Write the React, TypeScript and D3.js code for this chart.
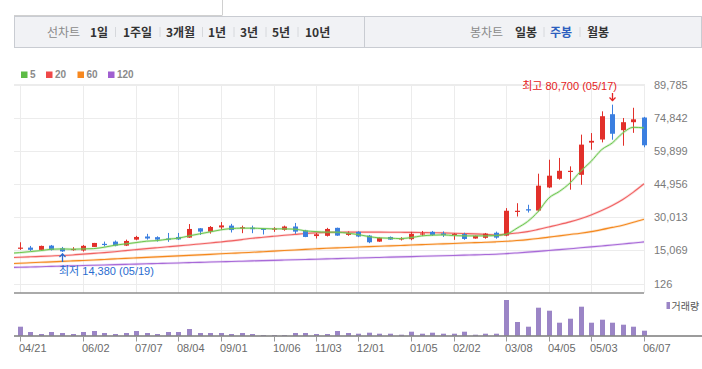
import React from 'react';
import * as d3 from 'd3';

const openP = [15850,16300,15260,17200,16000,15250,15000,16600,18000,19000,17200,19900,21300,21000,20400,21100,20800,25000,23500,25400,26200,24900,25300,24800,24500,24300,25800,24000,21500,21600,25200,22000,23400,21700,19000,21100,20100,20100,22300,23400,22700,22200,22400,20400,20700,23000,21700,32400,33600,33000,43400,47300,50400,49100,63600,65000,76400,69200,72800,74900];
const highP = [18700,17060,17200,17500,16600,16500,17500,18420,19000,19500,19900,21600,22500,21400,22900,22900,26900,25100,26000,27800,27000,26200,26200,25000,25500,26200,27400,24300,22900,25200,25300,23600,23700,22000,20900,21300,21000,23400,23800,23800,23600,22800,23000,21700,22900,23500,34100,36300,35600,49600,55900,56700,52900,67200,67900,77700,80700,74700,79300,75200];
const lowP = [15250,14800,15200,15000,14380,14900,14500,16600,16800,16900,17000,19600,19900,19000,18900,19700,20700,22000,22600,24400,23100,22800,22800,22200,23400,23900,22500,21000,20400,21300,21600,21600,21000,18300,18900,19800,19500,19600,21500,21600,21100,19800,19800,20300,20300,20300,21400,30300,32100,32500,43100,46900,42400,44600,60400,63700,64900,62200,68000,61500];
const closeP = [16300,15300,17060,15300,14600,15700,17100,18400,17500,17200,19300,21100,20400,19900,20200,20000,24700,23500,25600,26300,24200,25500,24600,24400,24900,25800,23500,21100,22300,24700,21700,22800,21300,18700,20700,19900,20500,22500,22700,22000,21900,22500,20200,21600,22600,20800,32900,32900,33000,44200,48700,50900,50900,62700,64400,75500,67600,72800,74100,62400];

// moving averages; the first value belongs to the week before the first candle (cut at the plot edge)
const ma5 = [13700,14040,14490,14940,15570,15710,15570,15710,15850,16480,17380,17970,18560,19190,19460,20090,20540,21580,22490,23390,24290,24880,25060,25060,24880,24740,24740,24610,23840,23520,23250,23250,22800,22170,21270,20680,20540,20360,20810,21580,21900,22030,21720,21580,21580,21580,21720,22350,25060,28050,32560,38610,41600,45380,50630,55140,60430,63450,67970,70500,70230];
const ma20 = [11800,11960,12150,12350,12550,12750,13000,13350,13700,14050,14450,14940,15400,15850,16250,16650,17060,17500,17950,18400,18850,19320,19900,20540,20950,21400,21850,22250,22650,22950,23150,23250,23270,23280,23290,23280,23250,23200,23150,23080,23000,22930,22800,22650,22490,22250,22030,22400,22900,23500,24500,25600,26700,27900,29300,31000,33000,35300,38000,41300,45070];
const ma60 = [9050,9250,9460,9670,9880,10090,10300,10520,10740,10960,11200,11430,11660,11890,12120,12350,12580,12810,13040,13270,13500,13730,13960,14200,14460,14720,14980,15240,15500,15750,16000,16180,16360,16540,16720,16900,17080,17260,17440,17620,17800,17980,18160,18340,18520,18700,18900,19150,19500,19900,20400,21000,21600,22200,22800,23500,24400,25400,26400,27700,29100];
const ma120 = [7320,7440,7570,7700,7830,7960,8090,8220,8350,8480,8610,8740,8870,9000,9130,9260,9390,9520,9650,9780,9910,10040,10170,10300,10430,10560,10690,10820,10950,11080,11210,11340,11470,11600,11730,11860,11990,12120,12250,12380,12510,12640,12770,12900,13030,13160,13300,13580,13900,14250,14620,15000,15400,15800,16200,16620,17050,17480,17930,18400,18870];

const volume = [90,37,17,37,27,17,37,47,27,17,27,47,27,17,37,37,67,27,27,27,17,27,17,7,7,7,27,27,17,17,47,27,20,30,20,20,10,40,20,30,20,20,40,10,20,20,357,137,90,280,250,130,170,290,130,160,130,110,90,50];

const tickIndex = [0,6,11,15,19,24,28,32,37,41,46,50,54,59];
const tickLabels = ['04/21','06/02','07/07','08/04','09/01','10/06','11/03','12/01','01/05','02/02','03/08','04/05','05/03','06/07'];
const yTicks = [126,15069,30013,44956,59899,74842,89785];
const maxDate = '05/17';
const minDate = '05/19';

const periodTabs = ['1일','1주일','3개월','1년','3년','5년','10년'];
const candleTabs = ['일봉','주봉','월봉'];
const legendItems = [
  { label: '5', color: '#5dbb46' },
  { label: '20', color: '#ef4848' },
  { label: '60', color: '#f7881f' },
  { label: '120', color: '#a05fd0' },
];

const UP = '#e2302a';
const DOWN = '#3b7fe0';
const NUMFONT = '"Liberation Sans", Arial, "Noto Sans CJK KR", sans-serif';
const KRFONT = '"Noto Sans CJK KR", "Liberation Sans", sans-serif';

export default function App() {
  const n = closeP.length;
  const x = d3.scaleLinear().domain([0, n - 1]).range([19.7, 644]);
  const y = d3.scaleLinear().domain([126, 89785]).range([283.5, 84.5]);
  const yv = d3.scaleLinear().domain([0, d3.max(volume) as number]).range([335.7, 300]);
  const fmt = d3.format(',');
  const lineGen = (arr: number[]) =>
    d3.line<number>().x((_, i) => x(i - 1)).y((d) => y(d)).curve(d3.curveMonotoneX)(arr) || '';

  const maxI = d3.maxIndex(highP);
  const minI = d3.minIndex(lowP);
  const xMax = Math.round(x(maxI));
  const xMin = Math.round(x(minI));

  const tabX = [90, 123, 166, 208, 240, 272, 305];
  const sepX = [115.5, 160, 202.5, 234, 266, 298];
  const ctabX = [515, 550, 587];
  const csepX = [544, 580];

  const mas = [
    { d: ma120, c: '#a86ad8', w: 1.1 },
    { d: ma60, c: '#f4891f', w: 1.1 },
    { d: ma20, c: '#f06262', w: 1.1 },
  ];

  return (
    <svg width={702} height={369} style={{ position: 'absolute', left: 0, top: 0, background: '#fff' }}>
      <defs>
        <clipPath id="plotClip">
          <rect x={14} y={84} width={631} height={209} />
        </clipPath>
      </defs>
      {/* header */}
      <line x1={14} x2={222} y1={15.5} y2={15.5} stroke="#d0d0d0" />
      <line x1={222.5} x2={222.5} y1={0} y2={15.5} stroke="#d0d0d0" />
      <rect x={14.5} y={16.5} width={687} height={31} fill="#f1f2f5" stroke="#c9ccd2" />
      <line x1={364.5} x2={364.5} y1={17} y2={47} stroke="#c9ccd2" />
      <text x={47} y={36.5} fontFamily={KRFONT} fontSize={12} fill="#8a8a8a">선차트</text>
      {periodTabs.map((t, i) => (
        <text key={t} x={tabX[i]} y={36.5} fontFamily={KRFONT} fontSize={12} fontWeight="bold" fill="#333">{t}</text>
      ))}
      {sepX.map((s) => (
        <line key={s} x1={s} x2={s} y1={27} y2={37} stroke="#d6d8dc" />
      ))}
      <text x={470} y={36.5} fontFamily={KRFONT} fontSize={12} fill="#8a8a8a">봉차트</text>
      {candleTabs.map((t, i) => (
        <text key={t} x={ctabX[i]} y={36.5} fontFamily={KRFONT} fontSize={12} fontWeight="bold" fill={i === 1 ? '#2d5fbf' : '#333'}>{t}</text>
      ))}
      {csepX.map((s) => (
        <line key={s} x1={s} x2={s} y1={27} y2={37} stroke="#d6d8dc" />
      ))}

      {/* legend */}
      {legendItems.map((l, i) => {
        const lx = [21, 46, 77.5, 108][i];
        return (
          <g key={l.label}>
            <rect x={lx} y={71.5} width={6.5} height={6.5} fill={l.color} />
            <text x={lx + 9} y={78.3} fontFamily={NUMFONT} fontSize={10} fontWeight="bold" fill="#8a8a8a">{l.label}</text>
          </g>
        );
      })}

      {/* grid */}
      <line x1={14} x2={644} y1={84.5} y2={84.5} stroke="#ececec" />
      {yTicks.map((t) => (
        <line key={t} x1={14} x2={644} y1={Math.round(y(t)) + 0.5} y2={Math.round(y(t)) + 0.5} stroke="#ececec" />
      ))}
      {tickIndex.map((ti) => (
        <line key={ti} x1={Math.round(x(ti)) + 0.5} x2={Math.round(x(ti)) + 0.5} y1={84} y2={293} stroke="#ececec" />
      ))}
      {yTicks.map((t) => (
        <text key={'l' + t} x={654} y={y(t) + 4} fontFamily={NUMFONT} fontSize={11} fill="#7a7a7a">{fmt(t)}</text>
      ))}
      <line x1={14} x2={644} y1={293} y2={293} stroke="#8e8e8e" strokeWidth={1.3} />

      {/* moving averages */}
      <g clipPath="url(#plotClip)">
        {mas.map((m, i) => (
          <g key={i}>
            <path d={lineGen(m.d)} fill="none" stroke={m.c} strokeOpacity={0.22} strokeWidth={2.6} />
            <path d={lineGen(m.d)} fill="none" stroke={m.c} strokeWidth={m.w} />
          </g>
        ))}
      </g>

      {/* candles */}
      {closeP.map((c, i) => {
        const o = openP[i];
        const cx = Math.round(x(i));
        const col = c >= o ? UP : DOWN;
        const top = y(Math.max(o, c));
        const bot = y(Math.min(o, c));
        return (
          <g key={i}>
            <line x1={cx + 0.5} x2={cx + 0.5} y1={y(highP[i])} y2={y(lowP[i])} stroke={col} strokeWidth={1} />
            <rect x={cx - 2} y={top} width={5} height={Math.max(1.2, bot - top)} fill={col} />
          </g>
        );
      })}

      {/* MA5 on top */}
      <g clipPath="url(#plotClip)">
        <path d={lineGen(ma5)} fill="none" stroke="#7bcd5c" strokeOpacity={0.3} strokeWidth={2.4} />
        <path d={lineGen(ma5)} fill="none" stroke="#6cc64e" strokeWidth={1} />
      </g>

      {/* annotations */}
      <text x={617} y={90} textAnchor="end" fontFamily={NUMFONT} fontSize={11} fill="#e52222">{`최고 ${fmt(highP[maxI])} (${maxDate})`}</text>
      <g stroke="#e52222" strokeWidth={1.3} fill="none">
        <line x1={xMax + 0.5} x2={xMax + 0.5} y1={93} y2={101} />
        <polyline points={`${xMax - 2.5},97.5 ${xMax + 0.5},100.5 ${xMax + 3.5},97.5`} />
      </g>
      <text x={xMin - 3} y={275} fontFamily={NUMFONT} fontSize={11} fill="#2a6ccf">{`최저 ${fmt(lowP[minI])} (${minDate})`}</text>
      <g stroke="#2a6ccf" strokeWidth={1.3} fill="none">
        <line x1={xMin + 0.5} x2={xMin + 0.5} y1={253.5} y2={262} />
        <polyline points={`${xMin - 2.5},257 ${xMin + 0.5},254 ${xMin + 3.5},257`} />
      </g>

      {/* volume */}
      {volume.map((v, i) => {
        const cx = Math.round(x(i));
        return <rect key={i} x={cx - 2} y={yv(v)} width={5} height={335.7 - yv(v)} fill="#9b85c6" />;
      })}
      <line x1={14} x2={702} y1={336} y2={336} stroke="#7a7a7a" strokeWidth={1.3} />
      {tickIndex.map((ti, k) => {
        const tx = Math.round(x(ti)) + 0.5;
        return (
          <g key={ti}>
            <line x1={tx} x2={tx} y1={336} y2={341.5} stroke="#9a9a9a" />
            <text x={tx - 1.5} y={352} fontFamily={NUMFONT} fontSize={11} fill="#6a6a6a">{tickLabels[k]}</text>
          </g>
        );
      })}
      <rect x={666.5} y={302} width={3.5} height={7} fill="#9b85c6" />
      <text x={671.5} y={309.5} fontFamily={KRFONT} fontSize={10} fill="#555">거래량</text>
    </svg>
  );
}
